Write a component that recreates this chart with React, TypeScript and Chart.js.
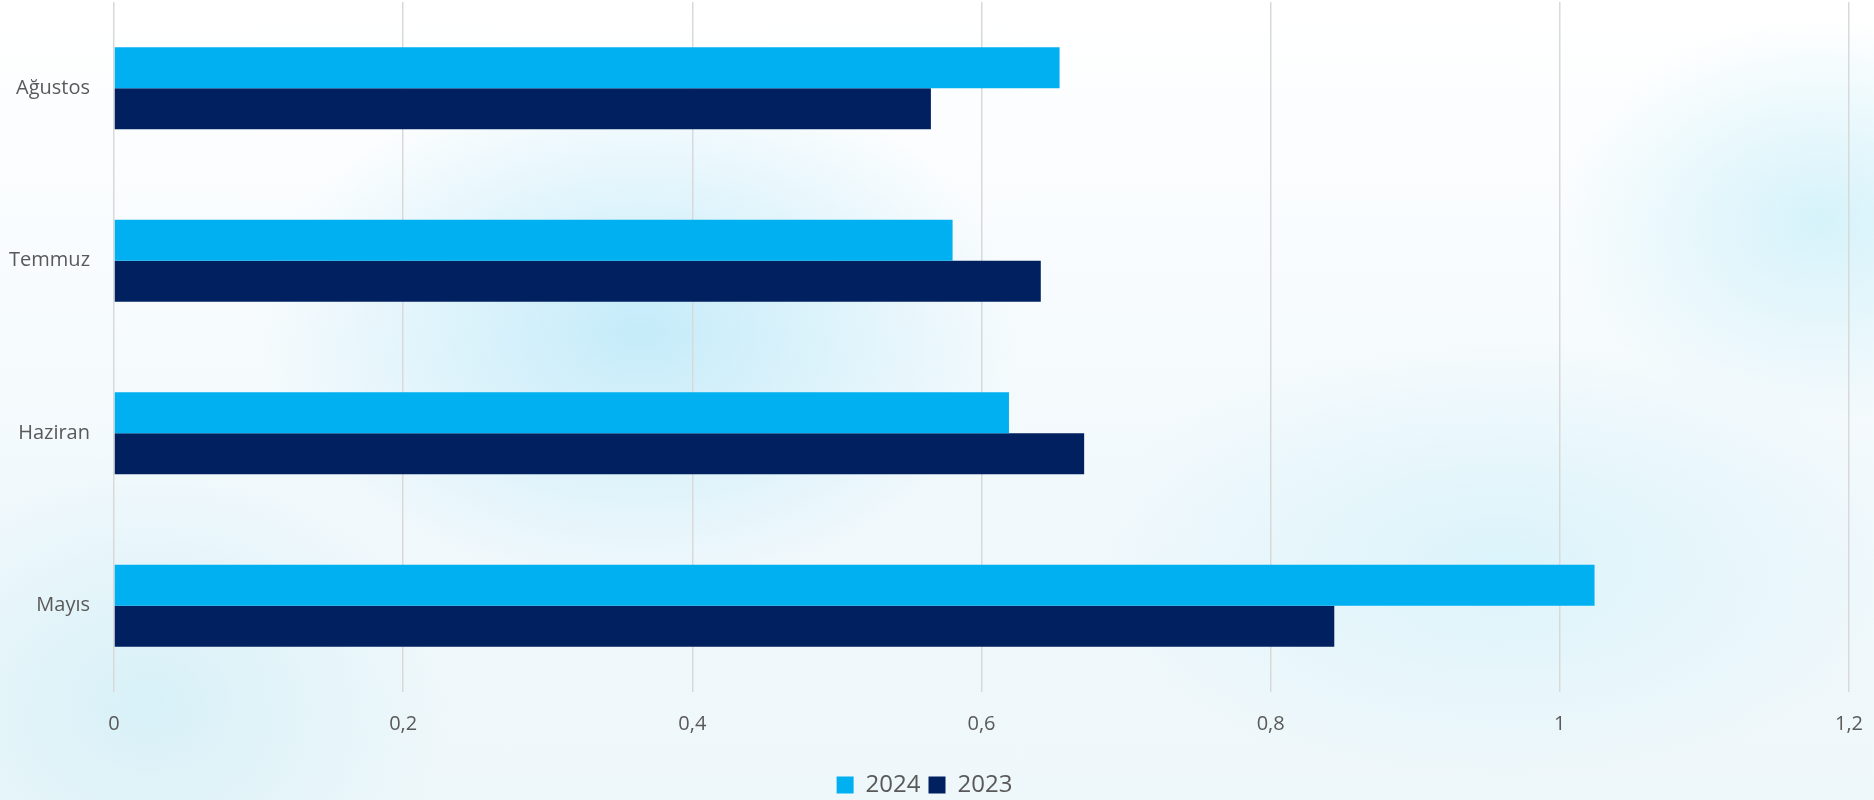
import React, { useEffect, useRef } from "react";
import { Chart, registerables } from "chart.js";

Chart.register(...registerables);

const categories = ["Ağustos", "Temmuz", "Haziran", "Mayıs"];
const series2024 = [0.654, 0.58, 0.619, 1.024];
const series2023 = [0.565, 0.641, 0.671, 0.844];
const seriesLabels = ["2024", "2023"];
const xTickLabels: Record<string, string> = {
  "0": "0",
  "0.2": "0,2",
  "0.4": "0,4",
  "0.6": "0,6",
  "0.8": "0,8",
  "1": "1",
  "1.2": "1,2",
};

export default function App() {
  const ref = useRef<HTMLCanvasElement | null>(null);

  useEffect(() => {
    document.body.style.margin = "0";
    const canvas = ref.current;
    if (!canvas) return;
    const chart = new Chart(canvas, {
      type: "bar",
      data: {
        labels: categories,
        datasets: [
          {
            label: seriesLabels[0],
            data: series2024,
            backgroundColor: "#00B0F0",
            borderWidth: 0,
          },
          {
            label: seriesLabels[1],
            data: series2023,
            backgroundColor: "#002060",
            borderWidth: 0,
          },
        ],
      },
      options: {
        indexAxis: "y",
        animation: false,
        responsive: false,
        maintainAspectRatio: false,
        layout: { padding: { top: 2, right: 25, left: 0, bottom: -7 } },
        datasets: {
          bar: { categoryPercentage: 0.474, barPercentage: 1 },
        },
        scales: {
          x: {
            min: 0,
            max: 1.2,
            ticks: {
              stepSize: 0.2,
              padding: 20,
              color: "#595959",
              font: { family: "'Open Sans'", size: 20 },
              callback: (v: any) => {
                const key = String(Math.round(Number(v) * 10) / 10);
                return xTickLabels[key] ?? key;
              },
            },
            grid: {
              color: "#d9d9d9",
              lineWidth: 1.5,
              drawTicks: false,
            },
            border: { display: false },
            afterFit: (scale: any) => {
              scale.paddingLeft = 0;
              scale.paddingRight = 0;
              scale.height += 9;
            },
          },
          y: {
            ticks: {
              padding: 0,
              color: "#595959",
              font: { family: "'Open Sans'", size: 20 },
            },
            grid: { display: false, drawTicks: true, tickLength: 24 },
            border: { display: false },
            afterFit: (scale: any) => {
              scale.width = 114;
              scale.paddingTop = 0;
              scale.paddingBottom = 0;
            },
          },
        },
        plugins: {
          legend: {
            position: "bottom",
            labels: {
              boxWidth: 17,
              boxHeight: 17,
              padding: 8,
              color: "#595959",
              font: { family: "'Open Sans'", size: 24 },
            },
          },
          tooltip: { enabled: false },
        },
      },
    });
    return () => chart.destroy();
  }, []);

  return (
    <div
      style={{
        position: "fixed",
        left: 0,
        top: 0,
        width: 1874,
        height: 800,
        overflow: "hidden",
        background:
          "radial-gradient(ellipse 380px 260px at 640px 330px, rgba(180,230,248,0.75), rgba(180,230,248,0) 100%)," +
          "radial-gradient(ellipse 260px 200px at 1820px 220px, rgba(190,236,248,0.6), rgba(190,236,248,0) 100%)," +
          "radial-gradient(ellipse 420px 220px at 1500px 560px, rgba(205,240,250,0.6), rgba(205,240,250,0) 100%)," +
          "radial-gradient(ellipse 300px 250px at 150px 700px, rgba(200,236,246,0.6), rgba(200,236,246,0) 100%)," +
          "linear-gradient(180deg, #ffffff 0%, #f2f9fc 60%, #eef7fa 100%)",
      }}
    >
      <canvas ref={ref} width={1874} height={800} style={{ display: "block" }} />
    </div>
  );
}
